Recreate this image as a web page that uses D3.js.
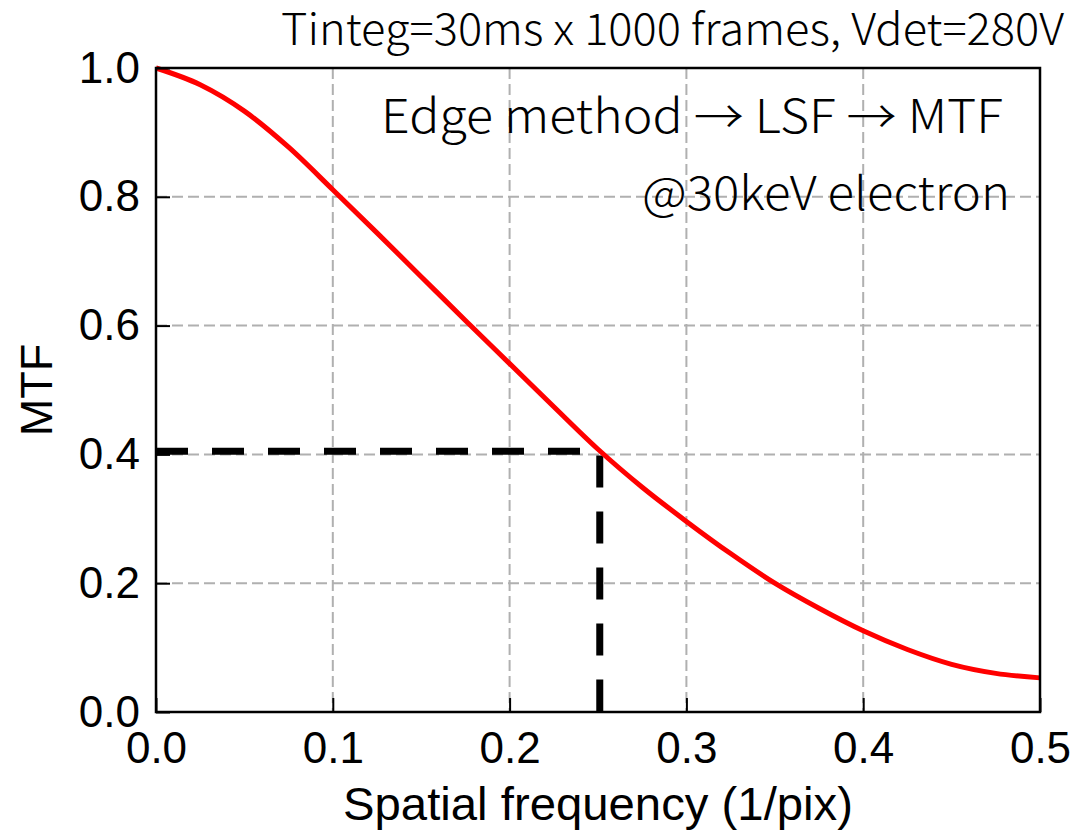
<!DOCTYPE html>
<html><head><meta charset="utf-8">
<script src="https://cdn.jsdelivr.net/npm/d3@7"></script>
<style>body{margin:0;background:#fff;} svg{display:block;}</style>
</head><body>
<svg id="chart" width="1078" height="832"></svg>
<script>
const freq = [0.000,0.025,0.050,0.075,0.100,0.125,0.150,0.175,0.200,0.225,0.250,0.275,0.300,0.325,0.350,0.375,0.400,0.425,0.450,0.475,0.500];
const mtf  = [1.000,0.974,0.933,0.877,0.811,0.744,0.676,0.608,0.541,0.474,0.408,0.349,0.296,0.246,0.200,0.161,0.126,0.097,0.074,0.060,0.053];
const markerX = [0, 0.251, 0.251];
const markerY = [0.405, 0.405, 0];
const xTicks = [0, 0.1, 0.2, 0.3, 0.4, 0.5];
const yTicks = [0, 0.2, 0.4, 0.6, 0.8, 1.0];
const titleText = "Tinteg=30ms x 1000 frames, Vdet=280V";
const annot1 = "Edge method \u2192 LSF \u2192 MTF";
const annot2 = "@30keV electron";
const xLabel = "Spatial frequency (1/pix)";
const yLabel = "MTF";

const svg = d3.select("#chart");
const L = 156, R = 1040, T = 68, B = 712;
const x = d3.scaleLinear().domain([0, 0.5]).range([L, R]);
const y = d3.scaleLinear().domain([0, 1]).range([B, T]);
const sans = "'Liberation Sans', Arial, sans-serif";
const jp = "'Noto Sans CJK JP', 'Noto Sans', sans-serif";

// grid
const grid = svg.append("g");
grid.selectAll("line.gx").data(xTicks.filter(d => d > 0 && d < 0.5)).join("line")
  .attr("x1", d => x(d)).attr("x2", d => x(d)).attr("y1", T).attr("y2", B)
  .attr("stroke", "#b0b0b0").attr("stroke-width", 2).attr("stroke-dasharray", "11,5");
grid.selectAll("line.gy").data(yTicks.filter(d => d > 0 && d < 1)).join("line")
  .attr("y1", d => y(d)).attr("y2", d => y(d)).attr("x1", L).attr("x2", R)
  .attr("stroke", "#b0b0b0").attr("stroke-width", 2).attr("stroke-dasharray", "11,5");

// marker dashed line
const mline = d3.line().x(d => x(d[0])).y(d => y(d[1]));
svg.append("path").attr("d", mline(markerX.map((v, i) => [v, markerY[i]])))
  .attr("fill", "none").attr("stroke", "#000").attr("stroke-width", 7)
  .attr("stroke-dasharray", "32,24");

// curve
const line = d3.line().x((d, i) => x(freq[i])).y(d => y(d)).curve(d3.curveMonotoneX);
svg.append("path").attr("d", line(mtf))
  .attr("fill", "none").attr("stroke", "#ff0000").attr("stroke-width", 5);

// axes (ticks inward)
const fmt = d3.format(".1f");
const xAxis = svg.append("g").attr("transform", `translate(0,${B})`)
  .call(d3.axisBottom(x).tickValues(xTicks).tickFormat(fmt).tickSizeInner(-14).tickSizeOuter(0).tickPadding(20));
const yAxis = svg.append("g").attr("transform", `translate(${L},0)`)
  .call(d3.axisLeft(y).tickValues(yTicks).tickFormat(fmt).tickSizeInner(-14).tickSizeOuter(0).tickPadding(16));
[xAxis, yAxis].forEach(g => {
  g.select(".domain").remove();
  g.selectAll(".tick line").attr("stroke", "#000").attr("stroke-width", 2);
  g.selectAll(".tick text").attr("fill", "#000").style("font-family", sans).style("font-size", "44px");
});
xAxis.selectAll(".tick text").attr("dy", "0.71em");

// frame
svg.append("rect").attr("x", L).attr("y", T).attr("width", R - L).attr("height", B - T)
  .attr("fill", "none").attr("stroke", "#000").attr("stroke-width", 2.5);

// labels
svg.append("text").attr("x", 598).attr("y", 820).attr("text-anchor", "middle")
  .attr("textLength", 510).attr("lengthAdjust", "spacingAndGlyphs")
  .style("font-family", sans).style("font-size", "47px").text(xLabel);
svg.append("text").attr("transform", "translate(52,390) rotate(-90)").attr("text-anchor", "middle")
  .style("font-family", sans).style("font-size", "45px").text(yLabel);

// annotations
svg.append("text").attr("x", 281).attr("y", 45)
  .attr("textLength", 783).attr("lengthAdjust", "spacingAndGlyphs")
  .style("font-family", jp).style("font-weight", 300).style("font-size", "44px").text(titleText);
svg.append("text").attr("x", 381).attr("y", 133)
  .attr("textLength", 622).attr("lengthAdjust", "spacingAndGlyphs")
  .style("font-family", jp).style("font-weight", 300).style("font-size", "46px").text(annot1);
svg.append("text").attr("x", 642).attr("y", 210)
  .attr("textLength", 368).attr("lengthAdjust", "spacingAndGlyphs")
  .style("font-family", jp).style("font-weight", 300).style("font-size", "46px").text(annot2);
</script>
</body></html>
